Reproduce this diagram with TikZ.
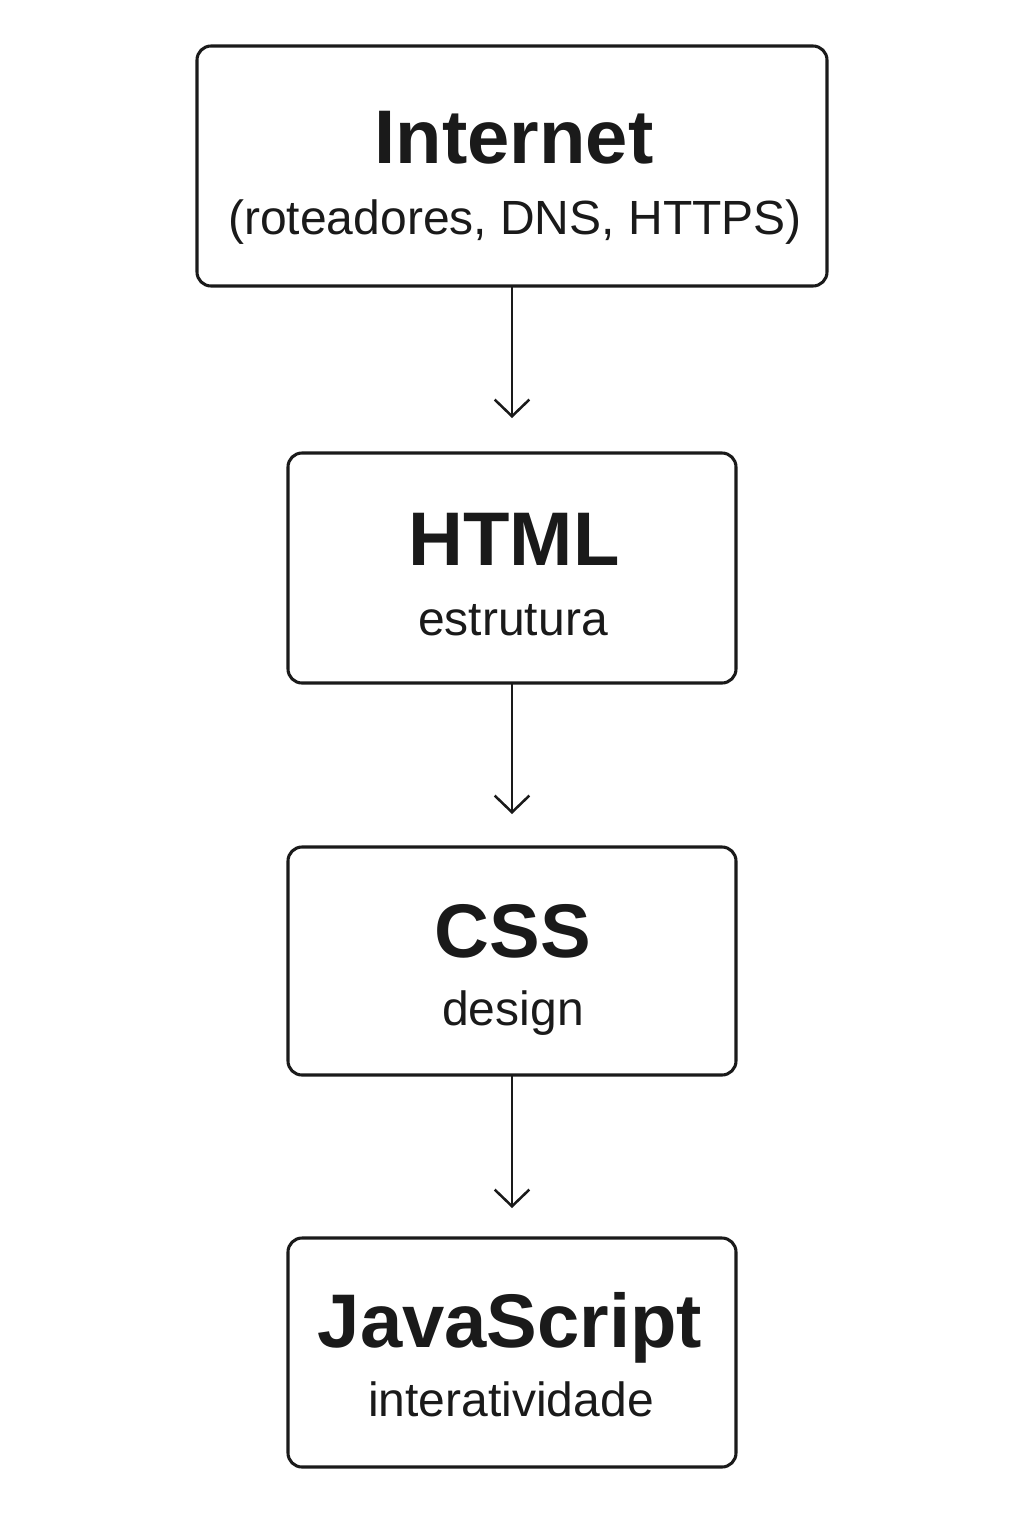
\documentclass[tikz,border=0pt]{standalone}
\usepackage{fontspec}
\setmainfont{Liberation Sans}
\usetikzlibrary{arrows.meta}
\definecolor{ink}{HTML}{1A1A1A}
\begin{document}
\begin{tikzpicture}[x=0.75pt,y=-0.75pt,
  boxstyle/.style={draw=ink,line width=2.3pt,rounded corners=10.5pt},
  titletext/.style={anchor=base,inner sep=0pt,text=ink,font=\fontsize{57}{60}\selectfont\bfseries},
  subtext/.style={anchor=base,inner sep=0pt,text=ink,font=\fontsize{36}{40}\selectfont},
  flow/.style={draw=ink,line width=1.9pt,-{Straight Barb[length=12.5pt,width=26pt,line width=1.9pt]}}]
\useasboundingbox (0,0) rectangle (1024,1536);
% boxes
\draw[boxstyle] (197,46) rectangle (827,286);
\coordinate (b1top) at (512,46); \coordinate (b1bot) at (512,286);
\draw[boxstyle] (288,453) rectangle (736,683);
\coordinate (b2top) at (512,453); \coordinate (b2bot) at (512,683);
\draw[boxstyle] (288,847) rectangle (736,1075);
\coordinate (b3top) at (512,847); \coordinate (b3bot) at (512,1075);
\draw[boxstyle] (288,1238) rectangle (736,1467);
\coordinate (b4top) at (512,1238);
% texts
\node[titletext] (t1) at (514,163) {Internet};
\node[subtext] (s1) at (515,234) {(roteadores, DNS, HTTPS)};
\node[titletext] (t2) at (514,565) {HTML};
\node[subtext] (s2) at (513,635) {estrutura};
\node[titletext] (t3) at (513,957) {CSS};
\node[subtext] (s3) at (513,1025) {design};
\node[titletext] (t4) at (510,1347) {JavaScript};
\node[subtext] (s4) at (511,1416) {interatividade};
% arrow ends
\coordinate (a1) at (512,418);
\coordinate (a2) at (512,814);
\coordinate (a3) at (512,1208);
\draw[flow] (b1bot) -- (a1);
\draw[flow] (b2bot) -- (a2);
\draw[flow] (b3bot) -- (a3);
\end{tikzpicture}
\end{document}
